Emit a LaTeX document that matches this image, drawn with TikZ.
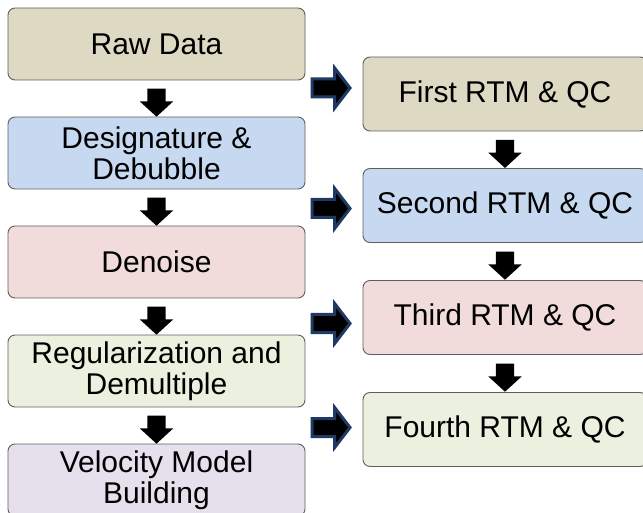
\documentclass[tikz,border=0pt]{standalone}
\usepackage{fontspec}
\setmainfont{Liberation Sans}
\usetikzlibrary{shapes.arrows,calc}
\definecolor{tanfill}{HTML}{DDD9C3}
\definecolor{bluefill}{HTML}{C6D9F1}
\definecolor{pinkfill}{HTML}{F2DCDB}
\definecolor{greenfill}{HTML}{EBF1DE}
\definecolor{lilacfill}{HTML}{E5E0EC}
\definecolor{boxline}{HTML}{5F5F5F}
\definecolor{navy}{HTML}{1F3864}
\begin{document}
\begin{tikzpicture}[x=1pt,y=-1pt,
  stepbox/.style={rectangle, rounded corners=7pt, draw=boxline, line width=0.9pt,
    align=center, inner sep=0pt, font=\fontsize{30}{31}\selectfont},
  leftbox/.style={stepbox, minimum width=297pt, minimum height=72pt},
  rightbox/.style={stepbox, minimum width=284pt, minimum height=74pt},
  downarrow/.style={single arrow, shape border rotate=270, fill=black, draw=none,
    inner sep=9pt, minimum height=28pt, minimum width=33pt,
    single arrow head extend=7.5pt, single arrow tip angle=95},
  rightarrow/.style={single arrow, fill=black, draw=navy, line width=3pt,
    inner sep=7.5pt, minimum height=38pt, minimum width=39pt,
    single arrow head extend=11pt, single arrow tip angle=105}]
\useasboundingbox (0,0) rectangle (643,513);
\clip (0,0) rectangle (643,513);

% processing steps
\node[leftbox, fill=tanfill]   (raw)   at (156.5,44)  {Raw Data};
\node[leftbox, fill=bluefill]  (desig) at (156.5,153) {Designature \&\\Debubble};
\node[leftbox, fill=pinkfill]  (denoise) at (156.5,262) {Denoise};
\node[leftbox, fill=greenfill] (regul) at (156.5,371) {Regularization and\\Demultiple};
\node[leftbox, fill=lilacfill] (vmb)   at (156.5,480) {Velocity Model\\Building};

% migration passes
\node[rightbox, fill=tanfill]   (rtm1) at (505,94)    {First RTM \& QC};
\node[rightbox, fill=bluefill]  (rtm2) at (505,205.5) {Second RTM \& QC};
\node[rightbox, fill=pinkfill]  (rtm3) at (505,317.5) {Third RTM \& QC};
\node[rightbox, fill=greenfill] (rtm4) at (505,429.5) {Fourth RTM \& QC};

% down arrows between steps
\node[downarrow] (d1) at ($(raw.south)!0.5!(desig.north)$) {};
\node[downarrow] (d2) at ($(desig.south)!0.5!(denoise.north)$) {};
\node[downarrow] (d3) at ($(denoise.south)!0.5!(regul.north)$) {};
\node[downarrow] (d4) at ($(regul.south)!0.5!(vmb.north)$) {};
\node[downarrow] (e1) at ($(rtm1.south)!0.5!(rtm2.north)$) {};
\node[downarrow] (e2) at ($(rtm2.south)!0.5!(rtm3.north)$) {};
\node[downarrow] (e3) at ($(rtm3.south)!0.5!(rtm4.north)$) {};

% arrows feeding each migration pass
\node[rightarrow] (r1) at ([xshift=-35pt,yshift=6pt]rtm1.west) {};
\node[rightarrow] (r2) at ([xshift=-35pt,yshift=-3pt]rtm2.west) {};
\node[rightarrow] (r3) at ([xshift=-35pt,yshift=-6pt]rtm3.west) {};
\node[rightarrow] (r4) at ([xshift=-35pt,yshift=2pt]rtm4.west) {};
\end{tikzpicture}
\end{document}
